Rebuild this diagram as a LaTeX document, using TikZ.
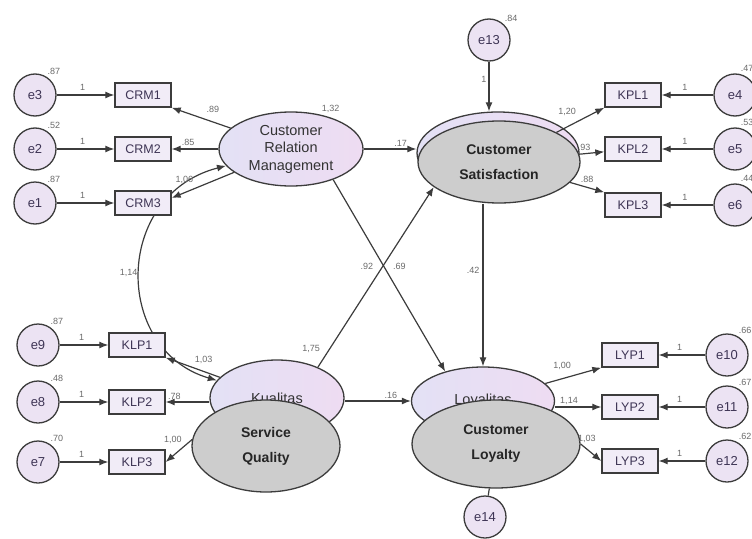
\documentclass[tikz,border=0pt]{standalone}
\usepackage{fontspec}
\setmainfont{Liberation Sans}
\usetikzlibrary{shapes.geometric,arrows.meta,backgrounds}
\definecolor{errfill}{HTML}{ECE3F3}
\definecolor{boxfill}{HTML}{F1ECF7}
\definecolor{latl}{HTML}{E3E1F5}
\definecolor{latr}{HTML}{EEDCF2}
\definecolor{latgrey}{HTML}{CDCDCD}
\definecolor{linegrey}{HTML}{3C3C3C}
\definecolor{numgrey}{HTML}{6A6A6A}
\definecolor{boxtext}{HTML}{3E3555}
\tikzstyle{errvar}=[circle, draw=linegrey, line width=1.3pt, fill=errfill, minimum size=42pt, inner sep=0pt, font=\fontsize{13}{13}\selectfont, text=boxtext]
\tikzstyle{obsbox}=[rectangle, draw=linegrey, line width=1.4pt, fill=boxfill, minimum width=56pt, minimum height=24pt, inner sep=0pt, font=\fontsize{12.5}{12.5}\selectfont, text=boxtext]
\tikzstyle{latent}=[ellipse, draw=linegrey, line width=1.3pt, left color=latl, right color=latr, inner sep=0pt, align=center, font=\fontsize{14.5}{17.5}\selectfont, text=black!80]
\tikzstyle{latentg}=[ellipse, draw=linegrey, line width=1.3pt, fill=latgrey, inner sep=0pt, align=center, font=\bfseries\fontsize{14}{25}\selectfont, text=black!85]
\tikzstyle{coef}=[font=\fontsize{9}{9}\selectfont, text=numgrey, inner sep=1pt]
\tikzstyle{arr}=[-{Latex[length=9pt,width=7pt]}, color=linegrey, line width=1.2pt]
\tikzstyle{cov}=[{Latex[length=9pt,width=7pt]}-{Latex[length=9pt,width=7pt]}, draw=linegrey, line width=1.2pt]

\begin{document}
\begin{tikzpicture}[x=1pt, y=-1pt, every label/.style={coef}, label distance=1pt]
		   \useasboundingbox (0, 0) rectangle (752, 538);
		   \begin{scope}
			   % latent variables
			   \node (crm) at (291, 149)[latent, minimum width=144pt, minimum height=74pt, label={50:1,32}] {Customer\\Relation\\Management};
			   \node (csl) at (498, 153)[latent, minimum width=162pt, minimum height=82pt] {};
			   \node (csg) at (499, 162)[latentg, minimum width=162pt, minimum height=82pt] {Customer\\Satisfaction};
			   \node (sql) at (277, 398)[latent, minimum width=134pt, minimum height=76pt] {Kualitas};
			   \node (sqg) at (266, 446)[latentg, minimum width=148pt, minimum height=92pt] {Service\\Quality};
			   \node (cll) at (483, 401)[latent, minimum width=143pt, minimum height=68pt] {Loyalitas};
			   \node (clg) at (496, 444)[latentg, minimum width=168pt, minimum height=88pt] {Customer\\Loyalty};
			   % indicators
			   \node (crm1) at (143, 95)[obsbox] {CRM1};
			   \node (crm2) at (143, 149)[obsbox] {CRM2};
			   \node (crm3) at (143, 203)[obsbox] {CRM3};
			   \node (klp1) at (137, 345)[obsbox] {KLP1};
			   \node (klp2) at (137, 402)[obsbox] {KLP2};
			   \node (klp3) at (137, 462)[obsbox] {KLP3};
			   \node (kpl1) at (633, 95)[obsbox] {KPL1};
			   \node (kpl2) at (633, 149)[obsbox] {KPL2};
			   \node (kpl3) at (633, 205)[obsbox] {KPL3};
			   \node (lyp1) at (630, 355)[obsbox] {LYP1};
			   \node (lyp2) at (630, 407)[obsbox] {LYP2};
			   \node (lyp3) at (630, 461)[obsbox] {LYP3};
			   % errors
			   \node (e3) at (35, 95)[errvar, label={60:.87}] {e3};
			   \node (e2) at (35, 149)[errvar, label={60:.52}] {e2};
			   \node (e1) at (35, 203)[errvar, label={60:.87}] {e1};
			   \node (e9) at (38, 345)[errvar, label={60:.87}] {e9};
			   \node (e8) at (38, 402)[errvar, label={60:.48}] {e8};
			   \node (e7) at (38, 462)[errvar, label={60:.70}] {e7};
			   \node (e4) at (735, 95)[errvar, label={78:.47}] {e4};
			   \node (e5) at (735, 149)[errvar, label={78:.53}] {e5};
			   \node (e6) at (735, 205)[errvar, label={78:.44}] {e6};
			   \node (e10) at (727, 355)[errvar, label={62:.66}] {e10};
			   \node (e11) at (727, 407)[errvar, label={62:.67}] {e11};
			   \node (e12) at (727, 461)[errvar, label={62:.62}] {e12};
			   \node (e13) at (489, 40)[errvar, label={50:.84}] {e13};
			   \node (e14) at (485, 517)[errvar] {e14};
		   \end{scope}
		   \begin{scope}[on background layer]
			   \draw [cov] (crm) .. controls (113, 195) and (113, 350) .. (sql) node[coef, pos=.5, left=1pt] {1,14};
		   \end{scope}
		   \begin{scope}
			   % customer relation management
			   \path [arr] (e3) edge node[coef, pos=.45, above=3pt] {1} (crm1);
			   \path [arr] (e2) edge node[coef, pos=.45, above=3pt] {1} (crm2);
			   \path [arr] (e1) edge node[coef, pos=.45, above=3pt] {1} (crm3);
			   \path [arr] (crm) edge node[coef, pos=.3, above=8pt] {.89} (crm1.south east);
			   \path [arr] (crm) edge node[coef, pos=.65, above=2pt] {.85} (crm2);
			   \path [arr] (crm) edge node[coef, pos=.6, above left=2pt] {1,06} (crm3.10);
			   % service quality
			   \path [arr] (e9) edge node[coef, pos=.45, above=3pt] {1} (klp1);
			   \path [arr] (e8) edge node[coef, pos=.45, above=3pt] {1} (klp2);
			   \path [arr] (e7) edge node[coef, pos=.45, above=3pt] {1} (klp3);
			   \path [arr] (sql) edge node[coef, pos=.3, above=6pt] {1,03} (klp1.south east);
			   \path [arr] (klp2.east -| sql.west) edge node[coef, pos=.8, above=1pt] {.78} (klp2.east);
			   \path [arr] (sqg.175) edge node[coef, pos=.3, above left=1pt] {1,00} (klp3.east);
			   % satisfaction
			   \path [arr] (e13) edge node[coef, pos=.35, left=1pt] {1} (e13 |- csl.north);
			   \path [arr] (crm.east) edge node[coef, pos=.7, above=1pt] {.17} (crm.east -| csl.west);
			   \path [arr] (crm.-36) edge node[coef, pos=.45, right=8pt] {.69} (cll.142);
			   \path [arr] (sql.37) edge node[coef, pos=.1, left=8pt] {1,75} node[coef, pos=.56, left=8pt] {.92} (csg.201);
			   \path [arr] (csg.south -| cll.north) edge node[coef, pos=.41, left=2pt] {.42} (cll.north);
			   \path [arr] (csg) edge node[coef, pos=.5, above left=3pt] {1,20} (kpl1.south west);
			   \path [arr] (csg) edge node[coef, pos=.2, above=2pt] {.93} (kpl2);
			   \path [arr] (csg) edge node[coef, pos=.5, above=3pt] {.88} (kpl3.north west);
			   \path [arr] (e4) edge node[coef, pos=.55, above=3pt] {1} (kpl1);
			   \path [arr] (e5) edge node[coef, pos=.55, above=3pt] {1} (kpl2);
			   \path [arr] (e6) edge node[coef, pos=.55, above=3pt] {1} (kpl3);
			   % loyalty
			   \path [arr] (cll.west -| sql.east) edge node[coef, pos=.7, above=1pt] {.16} (cll.west);
			   \path [arr] (cll) edge node[coef, pos=.3, above=7pt] {1,00} (lyp1.south west);
			   \path [arr] (lyp2.west -| cll.east) edge node[coef, pos=.3, above=1pt] {1,14} (lyp2.west);
			   \path [arr] (clg.east) edge node[coef, pos=.3, above=5pt] {1,03} (lyp3.west);
			   \path [arr] (e10) edge node[coef, pos=.55, above=3pt] {1} (lyp1);
			   \path [arr] (e11) edge node[coef, pos=.55, above=3pt] {1} (lyp2);
			   \path [arr] (e12) edge node[coef, pos=.55, above=3pt] {1} (lyp3);
			   \path [color=linegrey, line width=1.2pt] (e14) edge (clg);
		   \end{scope}
	   \end{tikzpicture}
\end{document}
